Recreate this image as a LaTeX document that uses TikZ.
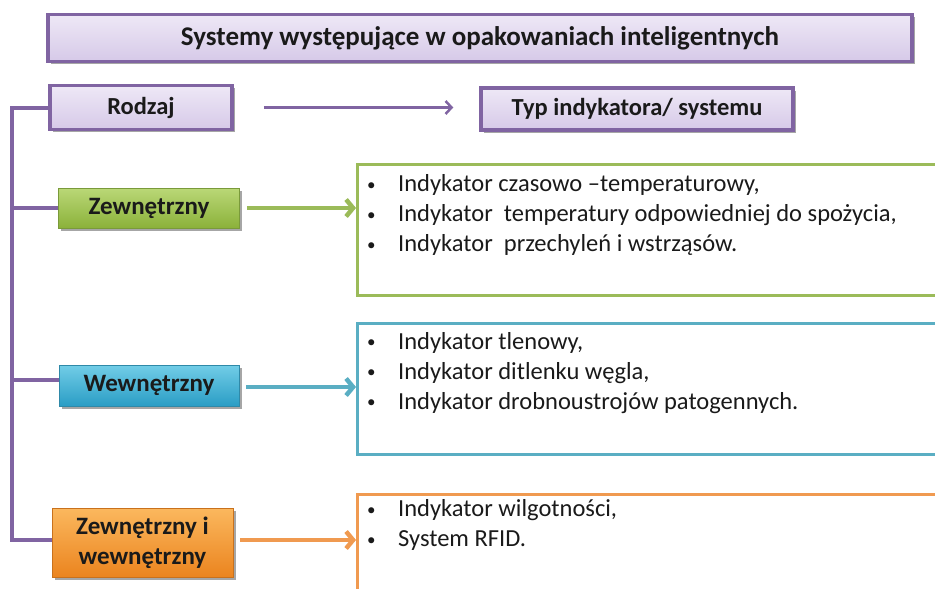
\documentclass[tikz,border=0pt]{standalone}
\usepackage{fontspec}
\setmainfont{Carlito}
\usetikzlibrary{arrows.meta,shadows}
\definecolor{purp}{HTML}{8064A2}
\definecolor{lavT}{HTML}{EEE8F6}
\definecolor{lavB}{HTML}{D6C9E8}
\definecolor{grnT}{HTML}{BAD877}
\definecolor{grnB}{HTML}{8BB13A}
\definecolor{grnD}{HTML}{7A9A3A}
\definecolor{grnL}{HTML}{9BBB59}
\definecolor{bluT}{HTML}{72CDE7}
\definecolor{bluB}{HTML}{2A9DC5}
\definecolor{bluD}{HTML}{2F89A8}
\definecolor{bluL}{HTML}{5AAEC3}
\definecolor{orgT}{HTML}{FBB85E}
\definecolor{orgB}{HTML}{EB841F}
\definecolor{orgD}{HTML}{C9711C}
\definecolor{orgL}{HTML}{F09A50}
\definecolor{txt}{HTML}{1A1A1A}
\tikzset{
  shadowed/.style={drop shadow={shadow xshift=2.5pt, shadow yshift=-2.5pt, opacity=0.35, fill=black}},
  hdrbox/.style={draw=purp, line width=3.5pt, top color=lavT, bottom color=lavB, shadowed,
    font=\bfseries\fontsize{24.5}{29}\selectfont, text=txt, inner sep=0pt},
  kindbox/.style={line width=0.8pt, shadowed, font=\bfseries\fontsize{25}{30}\selectfont,
    text=txt, inner sep=0pt, align=center},
  gbox/.style={kindbox, draw=grnD, top color=grnT, bottom color=grnB},
  bbox/.style={kindbox, draw=bluD, top color=bluT, bottom color=bluB},
  obox/.style={kindbox, draw=orgD, top color=orgT, bottom color=orgB},
  listbox/.style={line width=2.8pt, fill=white, inner sep=0pt, anchor=north west},
  listtext/.style={font=\fontsize{24.5}{30}\selectfont, text=txt, align=left, inner sep=0pt, anchor=west},
  pline/.style={draw=purp, line width=4pt, line join=miter},
  parr/.style={draw=purp, line width=2.5pt, -{Straight Barb[length=6pt,width=13pt]}},
  karr/.style={line width=4.5pt, -{Straight Barb[length=7pt,width=17pt]}, shorten <=7pt},
}
\newcommand{\bul}{\makebox[32pt][l]{\hspace{1pt}\raisebox{1.5pt}{\fontsize{17}{17}\selectfont •}}}
\begin{document}
\begin{tikzpicture}[x=1pt,y=-1pt]
\useasboundingbox (0,0) rectangle (935,589);
\clip (0,0) rectangle (935,589);
% header boxes
\node[hdrbox, minimum width=864pt, minimum height=47pt, font=\bfseries\fontsize{27}{32}\selectfont] (title) at (480,38) {Systemy występujące w opakowaniach inteligentnych};
\node[hdrbox, minimum width=182pt, minimum height=44pt] (rodzaj) at (141,107.5) {Rodzaj};
\node[hdrbox, minimum width=312pt, minimum height=42pt] (typ) at (637,109) {Typ indykatora/ systemu};
\draw[parr] ([xshift=30pt]rodzaj.east) -- ([xshift=-26pt]typ.west |- rodzaj.east);
% kind boxes
\node[gbox, minimum width=181pt, minimum height=40pt] (zew) at (149,208) {Zewnętrzny};
\node[bbox, minimum width=180pt, minimum height=41pt] (wew) at (149,385.5) {Wewnętrzny};
\node[obox, minimum width=181pt, minimum height=69pt] (zw) at (142.5,542.5) {Zewnętrzny i\\wewnętrzny};
% list boxes
\node[listbox, draw=grnL, minimum width=620pt, minimum height=131pt] (glist) at (356,163) {};
\node[listbox, draw=bluL, minimum width=620pt, minimum height=131pt] (blist) at (356,322) {};
\node[listbox, draw=orgL, minimum width=620pt, minimum height=140pt] (olist) at (356,493) {};
\node[listtext] (gtext) at (366,215) {\bul Indykator czasowo –temperaturowy,\\\bul Indykator\ \ temperatury odpowiedniej do spożycia,\\\bul Indykator\ \ przechyleń i wstrząsów.};
\node[listtext] (btext) at (366,373) {\bul Indykator tlenowy,\\\bul Indykator ditlenku węgla,\\\bul Indykator drobnoustrojów patogennych.};
\node[listtext] (otext) at (366,525) {\bul Indykator wilgotności,\\\bul System RFID.};
% tree lines
\coordinate (vb) at (12,540);
\coordinate (b1) at (12,208);
\coordinate (b2) at (12,380);
\draw[pline] (rodzaj.west) -| (vb) -- (vb -| zw.west);
\draw[pline] (b1) -- (b1 -| zew.west);
\draw[pline] (b2) -- (b2 -| wew.west);
% arrows
\draw[karr, draw=grnL] (zew.east) -- (zew.east -| glist.west);
\draw[karr, draw=bluL] ([yshift=-1.5pt]wew.east) -- ([yshift=-1.5pt]wew.east -| blist.west);
\draw[karr, draw=orgL] (zw.east |- vb) -- (vb -| olist.west);
\end{tikzpicture}
\end{document}
